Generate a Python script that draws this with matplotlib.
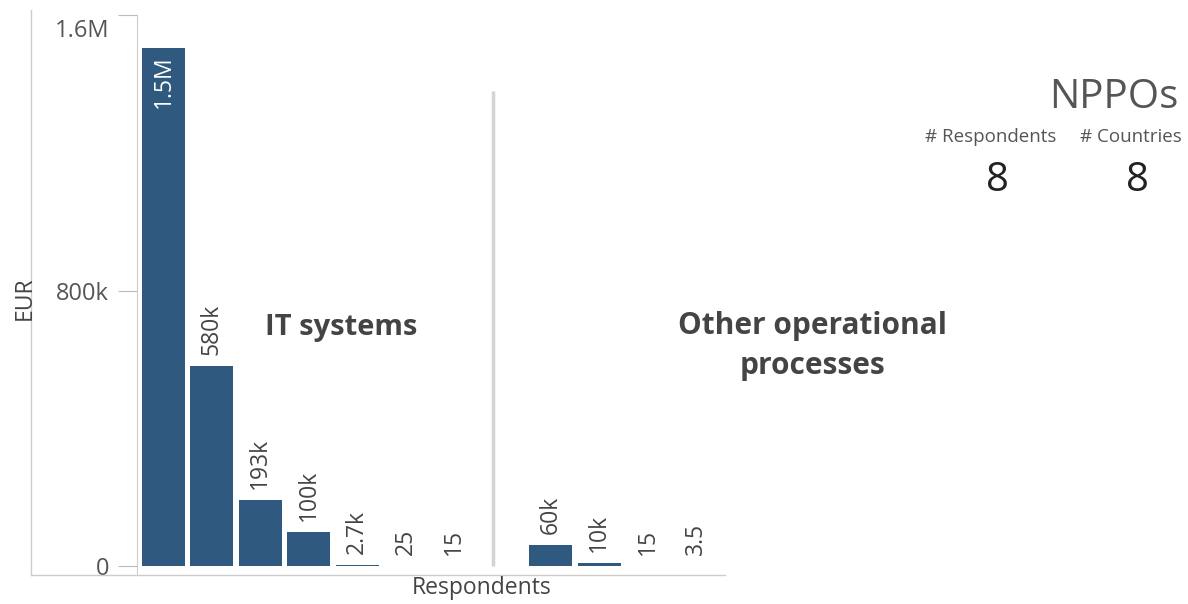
import matplotlib.pyplot as plt
import matplotlib.transforms as mtransforms
from matplotlib.lines import Line2D

plt.rcParams['font.family'] = ['Open Sans', 'DejaVu Sans']

# data
it_values = [1504000, 580000, 193000, 100000, 2700, 25, 15]
it_labels = ['1.5M', '580k', '193k', '100k', '2.7k', '25', '15']
other_values = [60000, 10000, 15, 3.5]
other_labels = ['60k', '10k', '15', '3.5']
y_ticks = [0, 800000, 1600000]
y_ticklabels = ['0', '800k', '1.6M']
n_respondents = 8
n_countries = 8

bar_color = '#30597f'
text_color = '#444444'

W, H = 1188, 604
fig = plt.figure(figsize=(W / 100, H / 100), dpi=100)

# axes: left spine at x=137px, top at y=15px, zero line at 566px
x0, x1 = 137, 725
top, zero_y, bottom = 15, 566, 575
scale = (zero_y - top) / 1.6e6
ylo = -(bottom - zero_y) / scale
ax = fig.add_axes([x0 / W, 1 - bottom / H, (x1 - x0) / W, (bottom - top) / H])
ax.set_ylim(ylo, 1.6e6)

step = 48.4
c0 = 163.5
ax.set_xlim((x0 - c0) / step, (x1 - c0) / step)

pos_it = list(range(len(it_values)))
pos_other = [8 + i for i in range(len(other_values))]

ax.bar(pos_it, it_values, width=0.89, color=bar_color)
ax.bar(pos_other, other_values, width=0.89, color=bar_color)

pad = 11 / scale
for p, v, lab in zip(pos_it + pos_other, it_values + other_values, it_labels + other_labels):
    if v > 1e6:
        ax.text(p, v - 7 / scale, lab, rotation=90, ha='center', va='top',
                color='white', fontsize=16.5)
    else:
        ax.text(p, v + pad, lab, rotation=90, ha='center', va='bottom',
                color=text_color, fontsize=16.5)

# divider between the two panes
ax.vlines(6.8, 0, 1.38e6, color='#d4d4d4', linewidth=2.5)

ax.text(3.67, 694000, 'IT systems', ha='center', va='center',
        fontsize=21, fontweight='bold', color=text_color)
ax.text(13.4, 639000, 'Other operational\nprocesses', ha='center', va='center',
        fontsize=21.5, fontweight='bold', color=text_color, linespacing=1.42,
        clip_on=False)

ax.set_yticks(y_ticks)
ax.set_yticklabels(y_ticklabels)
ax.tick_params(axis='y', length=14, width=0.8, color='#bbbbbb', pad=6,
               labelsize=17, labelcolor='#555555')
top_lab = ax.get_yticklabels()[-1]
top_lab.set_verticalalignment('top')
top_lab.set_transform(top_lab.get_transform() +
                      mtransforms.ScaledTranslation(0, -3 / 72, fig.dpi_scale_trans))
ax.set_xticks([])
for s in ['top', 'right', 'bottom']:
    ax.spines[s].set_visible(False)
ax.spines['left'].set_color('#cccccc')
ax.spines['left'].set_linewidth(0.8)

# outer pane border
fig.add_artist(Line2D([31 / W, 31 / W], [1 - 10 / H, 1 - bottom / H],
                      color='#cccccc', linewidth=1))
fig.add_artist(Line2D([31 / W, x1 / W], [1 - bottom / H, 1 - bottom / H],
                      color='#cccccc', linewidth=1))

fig.text(25 / W, 1 - 298 / H, 'EUR', rotation=90, ha='center', va='center',
         fontsize=16.5, color='#444444')
fig.text(482 / W, 1 - 588 / H, 'Respondents', ha='center', va='center',
         fontsize=16.5, color='#444444')

# summary block
fig.text(1178 / W, 1 - 98 / H, 'NPPOs', ha='right', va='center',
         fontsize=29, color='#555555')
fig.text(991 / W, 1 - 137 / H, '# Respondents', ha='center', va='center',
         fontsize=13.5, color='#555555')
fig.text(1131 / W, 1 - 137 / H, '# Countries', ha='center', va='center',
         fontsize=13.5, color='#555555')
fig.text(998 / W, 1 - 181 / H, str(n_respondents), ha='center', va='center',
         fontsize=29, color='#222222')
fig.text(1138 / W, 1 - 181 / H, str(n_countries), ha='center', va='center',
         fontsize=29, color='#222222')

fig.savefig('out.png', dpi=100)
